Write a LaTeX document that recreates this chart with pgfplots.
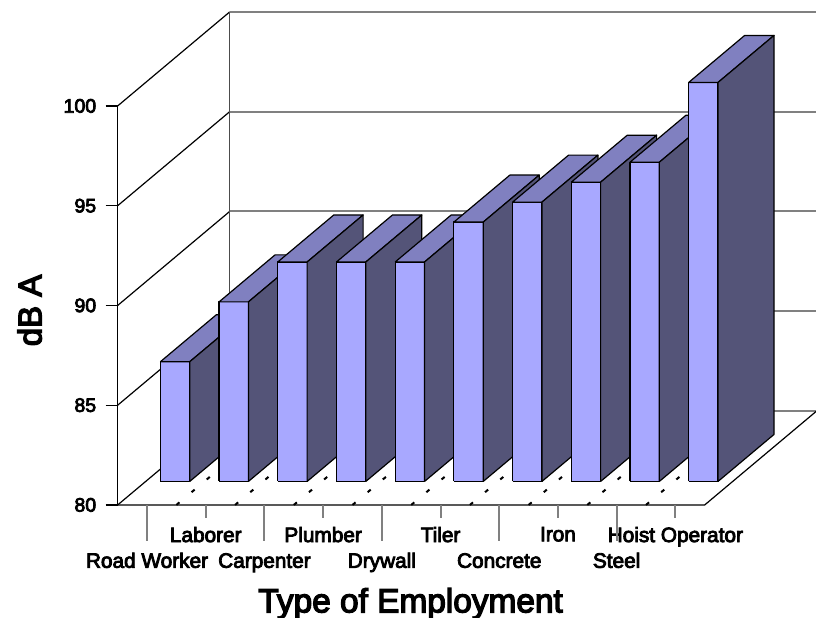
\documentclass[border=0pt]{standalone}
\usepackage{fontspec}
\usepackage{pgfplots}
\pgfplotsset{compat=1.18}
\setmainfont{Liberation Sans}[RawFeature={embolden=4}]
\definecolor{barfront}{HTML}{A8A8FF}
\definecolor{bartop}{HTML}{8080C0}
\definecolor{barside}{HTML}{545478}
\definecolor{wallgray}{HTML}{808080}
\newcommand{\DBar}[3]{%
  \addplot3[fill=barfront,draw=black,line width=1.2pt,line join=round] coordinates {(#1,.25,80)(#2,.25,80)(#2,.25,#3)(#1,.25,#3)(#1,.25,80)};
  \addplot3[fill=bartop,draw=black,line width=1.2pt,line join=round] coordinates {(#1,.25,#3)(#2,.25,#3)(#2,.75,#3)(#1,.75,#3)(#1,.25,#3)};
  \addplot3[fill=barside,draw=black,line width=1.2pt,line join=round] coordinates {(#2,.25,80)(#2,.75,80)(#2,.75,#3)(#2,.25,#3)(#2,.25,80)};
}
\newcommand{\FloorDash}[1]{%
  \addplot3[black,line width=2pt,dash pattern=on 4pt off 15.8pt] coordinates {(#1,0,80)(#1,1,80)};
}
\newcommand{\BackLine}[1]{%
  \addplot3[wallgray,line width=2pt] coordinates {(0,1,#1)(10,1,#1)};
  \addplot3[black,line width=1.2pt] coordinates {(0,0,#1)(0,1,#1)};
  \addplot3[black,line width=1.2pt] coordinates {(-0.204,0,#1)(0,0,#1)};
}
\newcommand{\XT}[2]{%
  \addplot3[wallgray,line width=2pt] coordinates {(#1,0,80)(#1,0,#2)};
}
\begin{document}
\begin{tikzpicture}
\begin{axis}[
  x={(58.7pt,0pt)}, y={(112pt,94pt)}, z={(0pt,19.95pt)},
  xmin=0,xmax=10,ymin=0,ymax=1,zmin=80,zmax=100,
  clip=false,
  axis line style={draw=none},
  tick style={draw=none},
  ytick=\empty,
  ztick={80,85,90,95,100},
  xtick={0.5,1.5,2.5,3.5,4.5,5.5,6.5,7.5,8.5,9.5},
  xticklabels={
    {\strut\\Road Worker},{Laborer\\\strut},{\strut\\Carpenter},{Plumber\\\strut},{\strut\\Drywall},
    {Tiler\\\strut},{\strut\\Concrete},{Iron\\\strut},{\strut\\Steel},{Hoist Operator\\\strut}},
  xticklabel style={align=center,font=\fontsize{20.8}{24}\selectfont,anchor=north,yshift=-18.5pt},
  zticklabel style={font=\fontsize{19.5}{24}\selectfont,anchor=east,xshift=-18pt},
  /pgf/number format/assume math mode=true,
  xlabel={Type of Employment},
  zlabel={dB A},
  xlabel style={font=\fontsize{33.4}{38}\selectfont,at={(axis cs:4.99,0,75.05)},anchor=center},
  zlabel style={font=\fontsize{33}{38}\selectfont,at={(axis cs:-1.5,0,89.75)},anchor=center,rotate=0},
]
\BackLine{80}\BackLine{85}\BackLine{90}\BackLine{95}\BackLine{100}
\addplot3[black!70,line width=1.5pt] coordinates {(0,1,80)(0,1,100)};
\addplot3[black!30,line width=1pt] coordinates {(10,1,80)(10,1,100)};
\addplot3[black,line width=1.2pt] coordinates {(0,0,80)(0,0,100)};
\addplot3[black,line width=1.2pt] coordinates {(0,0,80)(10,0,80)(10,1,80)};
\XT{0.5}{78.2}\XT{1.5}{79.35}\XT{2.5}{78.2}\XT{3.5}{79.35}\XT{4.5}{78.2}
\XT{5.5}{79.35}\XT{6.5}{78.2}\XT{7.5}{79.35}\XT{8.5}{78.2}\XT{9.5}{79.35}
\FloorDash{1}\FloorDash{2}\FloorDash{3}\FloorDash{4}\FloorDash{5}
\FloorDash{6}\FloorDash{7}\FloorDash{8}\FloorDash{9}
\DBar{0.25}{0.75}{86}
\DBar{1.25}{1.75}{89}
\DBar{2.25}{2.75}{91}
\DBar{3.25}{3.75}{91}
\DBar{4.25}{4.75}{91}
\DBar{5.25}{5.75}{93}
\DBar{6.25}{6.75}{94}
\DBar{7.25}{7.75}{95}
\DBar{8.25}{8.75}{96}
\DBar{9.25}{9.75}{100}
\coordinate (ll) at (axis cs:-2.005,0,74.34);
\coordinate (ur) at (axis cs:11.896,0,105.31);
\end{axis}
\pgfresetboundingbox
\useasboundingbox (ll) rectangle (ur);
\end{tikzpicture}
\end{document}
